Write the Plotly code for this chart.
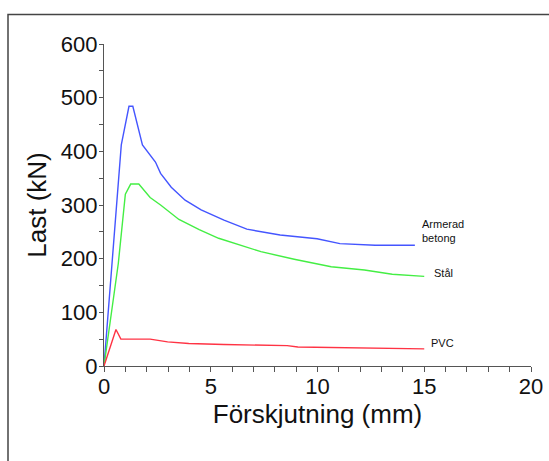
import plotly.graph_objects as go

# Data
betong_x = [0, 0.81, 1.17, 1.35, 1.80, 2.41, 2.65, 3.15, 3.80, 4.55, 5.62, 6.69, 8.25, 9.98, 11.05, 12.7, 14.56]
betong_y = [0, 412, 484, 484, 412, 380, 359, 333, 309, 291, 272, 255, 244, 237, 228, 225, 225]

stal_x = [0, 0.67, 1.0, 1.25, 1.63, 2.16, 2.65, 3.51, 4.46, 5.37, 7.35, 8.91, 10.64, 12.2, 13.5, 15.0]
stal_y = [0, 191, 320, 339, 339, 314, 300, 273, 254, 238, 213, 199, 185, 179, 171, 167]

pvc_x = [0, 0.56, 0.79, 2.16, 2.98, 3.97, 5.62, 8.58, 9.08, 11.55, 15.0]
pvc_y = [0, 68, 50, 50, 45, 42, 40, 38, 35.5, 34, 32]

labels = ["Armerad<br>betong", "Stål", "PVC"]
label_x = [14.8, 15.35, 15.2]
label_y = [252, 173, 42]

colors = ["#4455ff", "#44ee44", "#ff3344"]

fig = go.Figure()
for xs, ys, c in [(betong_x, betong_y, colors[0]), (stal_x, stal_y, colors[1]), (pvc_x, pvc_y, colors[2])]:
    fig.add_trace(go.Scatter(x=xs, y=ys, mode="lines", line=dict(color=c, width=1.4),
                             showlegend=False, hoverinfo="skip"))

for t, lx, ly in zip(labels, label_x, label_y):
    fig.add_annotation(x=lx, y=ly, text=t, showarrow=False, xanchor="left", yanchor="middle",
                       align="left", font=dict(family="Arial, Liberation Sans", size=11, color="#111"))

font_main = "Arial, Liberation Sans, Helvetica"
fig.update_layout(
    width=549, height=461, autosize=False,
    margin=dict(l=104, r=18, t=44, b=95, autoexpand=False),
    plot_bgcolor="white", paper_bgcolor="white",
    font=dict(family=font_main, color="#111"),
    xaxis=dict(range=[0, 20], dtick=5, tick0=0, showgrid=False, zeroline=False, automargin=False,
               showline=True, linecolor="#555", linewidth=1.3,
               ticks="outside", ticklen=5, tickcolor="#555", tickwidth=1,
               minor=dict(dtick=1, ticks="outside", ticklen=5, tickcolor="#555", showgrid=False),
               tickfont=dict(size=22), ticklabelstandoff=-5,
               title=dict(text="Förskjutning (mm)", font=dict(size=26), standoff=0)),
    yaxis=dict(range=[0, 600], dtick=100, tick0=0, showgrid=False, zeroline=False, automargin=False,
               showline=True, linecolor="#555", linewidth=1.3,
               ticks="outside", ticklen=4, tickcolor="#555", tickwidth=1,
               minor=dict(dtick=50, ticks="outside", ticklen=4, tickcolor="#555", showgrid=False),
               tickfont=dict(size=22), ticklabelstandoff=-3,
               title=dict(text="Last (kN)", font=dict(size=26), standoff=6)),
)

# Outer frame (clipped at right and bottom in the reference)
fig.add_shape(type="rect", xref="paper", yref="paper",
              x0=(8 - 104) / 427, x1=1.2, y0=-0.5, y1=(366 - 14.5) / 322,
              line=dict(color="#444", width=1.5), layer="below")

fig.write_html("out.html", config={"displayModeBar": False, "responsive": False},
               post_script="document.body.style.margin='0';document.body.style.overflow='hidden';")
